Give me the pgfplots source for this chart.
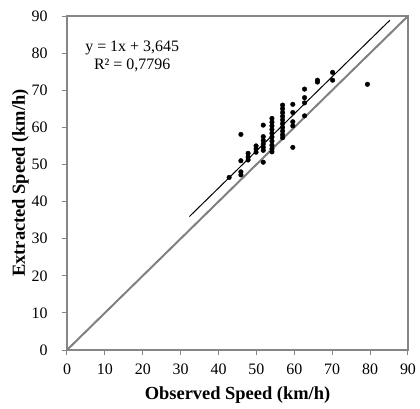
\documentclass[border=0pt]{standalone}
\usepackage{fontspec}
\setmainfont{Liberation Serif}
\usepackage{pgfplots}
\pgfplotsset{compat=1.18}
\definecolor{axgray}{RGB}{134,134,134}
\definecolor{lngray}{RGB}{128,128,128}
\begin{document}
\begin{tikzpicture}[x=1bp,y=1bp]
\begin{axis}[
  at={(0,0)}, anchor=south west,
  scale only axis,
  width=341bp, height=334bp,
  xmin=0, xmax=90, ymin=0, ymax=90,
  xtick={0,10,...,90}, ytick={0,10,...,90},
  tick align=outside, xtick pos=left, ytick pos=left,
  major tick length=5bp,
  axis line style={axgray, line width=1.2pt},
  every tick/.style={axgray, line width=1pt},
  ticklabel style={font=\fontsize{16}{18}\selectfont},
  yticklabel style={xshift=-11bp},
  xticklabel style={yshift=-5bp},
  /pgf/number format/assume math mode=true,
  xlabel={\textbf{Observed Speed (km/h)}},
  ylabel={\textbf{Extracted Speed (km/h)}},
  label style={font=\fontsize{18.5}{20}\selectfont},
  xlabel style={yshift=-6bp},
  ylabel style={yshift=-4bp},
]
\addplot[lngray, line width=2pt, no markers] coordinates {(0,0) (90,90)};
\addplot[black, line width=1pt, no markers] coordinates {(32.3,35.945) (85.2,88.845)};
\addplot[only marks, mark=*, mark size=2.3bp, black] coordinates {
(42.8,46.5)
(45.9,58.1) (45.9,51.0) (45.9,48.0) (45.9,47.2)
(47.8,53.0) (47.8,52.0) (47.8,51.2)
(49.9,55.0) (49.9,54.2) (49.9,53.3)
(51.8,60.6) (51.8,57.5) (51.8,56.5) (51.8,55.5) (51.8,54.6) (51.8,53.8) (51.8,50.6)
(54.1,62.4) (54.1,61.4) (54.1,60.4) (54.1,59.4) (54.1,58.4) (54.1,57.4) (54.1,56.3) (54.1,55.2) (54.1,54.2) (54.1,53.4)
(56.9,66.0) (56.9,65.0) (56.9,64.0) (56.9,63.0) (56.9,62.0) (56.9,61.0) (56.9,60.0) (56.9,59.0) (56.9,58.0) (56.9,57.2)
(59.6,66.2) (59.6,64.0) (59.6,61.5) (59.6,60.4) (59.6,54.6)
(62.7,70.3) (62.7,68.0) (62.7,66.6) (62.7,63.1)
(66.1,72.7) (66.1,72.2)
(70.1,74.8) (70.1,72.7)
(79.3,71.6)
};
\node[align=center, font=\fontsize{16}{18}\selectfont, inner sep=0pt] at (axis cs:17.2,79.0) {y = 1x + 3,645\\R² = 0,7796};
\end{axis}
\pgfresetboundingbox
\useasboundingbox (-67,-59) rectangle (353,350);
\end{tikzpicture}
\end{document}
